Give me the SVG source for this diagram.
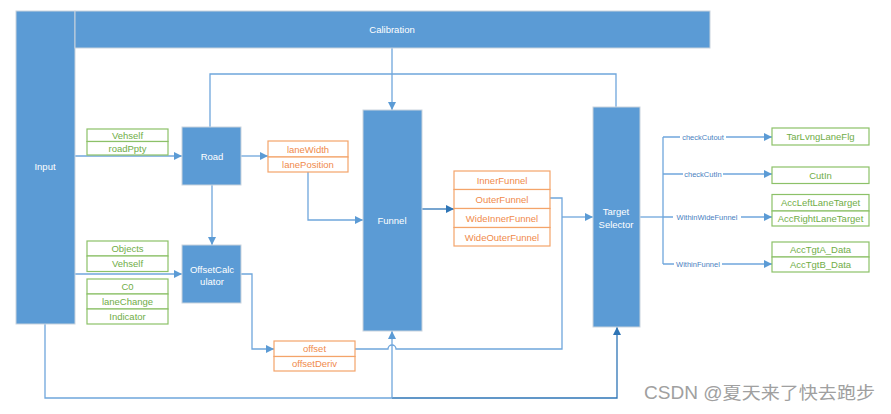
<svg xmlns="http://www.w3.org/2000/svg" width="891" height="414" viewBox="0 0 891 414">
<defs>
<style>
.blk{fill:#5b9bd5;stroke:#c9d3dd;stroke-width:1}
.wt{fill:#ffffff;font-family:"Liberation Sans","Noto Sans",sans-serif;font-size:9.5px;text-anchor:middle}
.gb{fill:#ffffff;stroke:#8cc168;stroke-width:1.2}
.gt{fill:#70ad47;font-family:"Liberation Sans","Noto Sans",sans-serif;font-size:9.5px;text-anchor:middle}
.ob{fill:#ffffff;stroke:#f4a46a;stroke-width:1.2}
.ot{fill:#f08a4b;font-family:"Liberation Sans","Noto Sans",sans-serif;font-size:9.5px;text-anchor:middle}
.ln{fill:none;stroke:#6fa6dc;stroke-width:1.3}
.lnd{fill:none;stroke:#2e75b6;stroke-width:1.3}
.lbl{fill:#4a7fbf;font-family:"Liberation Sans","Noto Sans",sans-serif;font-size:7.5px;text-anchor:middle}
</style>
<marker id="ah" viewBox="0 0 10 10" refX="10" refY="5" markerWidth="8" markerHeight="8" markerUnits="userSpaceOnUse" orient="auto">
<path d="M0,0 L10,5 L0,10 z" fill="#5b9bd5"/>
</marker>
<marker id="ahd" viewBox="0 0 10 10" refX="10" refY="5" markerWidth="8" markerHeight="8" markerUnits="userSpaceOnUse" orient="auto">
<path d="M0,0 L10,5 L0,10 z" fill="#2e75b6"/>
</marker>
</defs>
<rect x="0" y="0" width="891" height="414" fill="#ffffff"/>

<g id="connectors">
<path class="ln" d="M392,48 V110" marker-end="url(#ah)"/>
<path class="ln" d="M210,127 V74 H616 V107"/>
<path class="ln" d="M75,156 H182" marker-end="url(#ah)"/>
<path class="ln" d="M241,156 H268" marker-end="url(#ah)"/>
<path class="ln" d="M308,172 V220 H363" marker-end="url(#ah)"/>
<path class="ln" d="M212,185 V245" marker-end="url(#ah)"/>
<path class="ln" d="M75,274 H182" marker-end="url(#ah)"/>
<path class="ln" d="M241,274 H252 V349 H274" marker-end="url(#ah)"/>
<path class="lnd" d="M422,209 H454" marker-end="url(#ahd)"/>
<path class="ln" d="M550,198 H562 V349 H396 A4,4 0 0 0 388,349 H355"/>
<path class="ln" d="M562,217 H593" marker-end="url(#ah)"/>
<path class="ln" d="M45,324 V398 H392"/>
<path class="lnd" d="M392,398 H617 V327" marker-end="url(#ahd)"/>
<path class="ln" d="M392,398 V331" marker-end="url(#ah)"/>
<path class="ln" d="M640,217 H663"/>
<path class="ln" d="M663,137 V264"/>
<path class="ln" d="M663,137 H772" marker-end="url(#ah)"/>
<path class="ln" d="M663,174 H772" marker-end="url(#ah)"/>
<path class="ln" d="M663,217 H772" marker-end="url(#ah)"/>
<path class="ln" d="M663,264 H772" marker-end="url(#ah)"/>
<rect x="680" y="133" width="46" height="8" fill="#ffffff"/>
<text class="lbl" x="703" y="139.5">checkCutout</text>
<rect x="683" y="170" width="40" height="8" fill="#ffffff"/>
<text class="lbl" x="703" y="176.5">checkCutIn</text>
<rect x="673" y="213" width="68" height="8" fill="#ffffff"/>
<text class="lbl" x="707" y="219.5">WithinWideFunnel</text>
<rect x="674" y="260" width="48" height="8" fill="#ffffff"/>
<text class="lbl" x="698" y="266.5">WithinFunnel</text>
</g>

<g id="input">
<rect class="blk" x="16" y="11" width="59" height="313"/>
<text class="wt" x="45" y="170">Input</text>
</g>
<g id="calibration">
<rect class="blk" x="75" y="11" width="635" height="37"/>
<text class="wt" x="392" y="33">Calibration</text>
</g>
<g id="road">
<rect class="blk" x="182" y="127" width="59" height="58"/>
<text class="wt" x="212" y="160">Road</text>
</g>
<g id="offsetCalculator">
<rect class="blk" x="182" y="245" width="59" height="58"/>
<text class="wt" x="212" y="273">OffsetCalc</text>
<text class="wt" x="212" y="285">ulator</text>
</g>
<g id="funnel">
<rect class="blk" x="363" y="110" width="59" height="221"/>
<text class="wt" x="392" y="224">Funnel</text>
</g>
<g id="targetSelector">
<rect class="blk" x="593" y="107" width="47" height="220"/>
<text class="wt" x="616" y="215">Target</text>
<text class="wt" x="616" y="228">Selector</text>
</g>

<g id="roadInputs">
<rect class="gb" x="87" y="129" width="81" height="12.5"/>
<rect class="gb" x="87" y="141.5" width="81" height="13.5"/>
<text class="gt" x="127.5" y="139">Vehself</text>
<text class="gt" x="127.5" y="152">roadPpty</text>
</g>
<g id="offsetInputsA">
<rect class="gb" x="87" y="241" width="81" height="15"/>
<rect class="gb" x="87" y="256" width="81" height="15.5"/>
<text class="gt" x="127.5" y="252">Objects</text>
<text class="gt" x="127.5" y="267">Vehself</text>
</g>
<g id="offsetInputsB">
<rect class="gb" x="87" y="279" width="81" height="15"/>
<rect class="gb" x="87" y="294" width="81" height="15"/>
<rect class="gb" x="87" y="309" width="81" height="15"/>
<text class="gt" x="127.5" y="290">C0</text>
<text class="gt" x="127.5" y="305">laneChange</text>
<text class="gt" x="127.5" y="320">Indicator</text>
</g>
<g id="roadOutputs">
<rect class="ob" x="268" y="141" width="80" height="16"/>
<rect class="ob" x="268" y="157" width="80" height="15"/>
<text class="ot" x="308" y="152.5">laneWidth</text>
<text class="ot" x="308" y="167.5">lanePosition</text>
</g>
<g id="offsetOutputs">
<rect class="ob" x="274" y="341" width="81" height="15.5"/>
<rect class="ob" x="274" y="356.5" width="81" height="14.5"/>
<text class="ot" x="314.5" y="352">offset</text>
<text class="ot" x="314.5" y="367">offsetDeriv</text>
</g>
<g id="funnelOutputs">
<rect class="ob" x="454" y="171" width="96" height="18.5"/>
<rect class="ob" x="454" y="189.5" width="96" height="19"/>
<rect class="ob" x="454" y="208.5" width="96" height="19"/>
<rect class="ob" x="454" y="227.5" width="96" height="18.5"/>
<text class="ot" x="502" y="183.5">InnerFunnel</text>
<text class="ot" x="502" y="202.5">OuterFunnel</text>
<text class="ot" x="502" y="221.5">WideInnerFunnel</text>
<text class="ot" x="502" y="240.5">WideOuterFunnel</text>
</g>
<g id="tarLvngLaneFlg">
<rect class="gb" x="772" y="128" width="97" height="17"/>
<text class="gt" x="820.5" y="140">TarLvngLaneFlg</text>
</g>
<g id="cutIn">
<rect class="gb" x="772" y="167" width="97" height="16.5"/>
<text class="gt" x="820.5" y="178.5">CutIn</text>
</g>
<g id="laneTargets">
<rect class="gb" x="772" y="194.5" width="97" height="16.5"/>
<rect class="gb" x="772" y="211" width="97" height="15"/>
<text class="gt" x="820.5" y="206">AccLeftLaneTarget</text>
<text class="gt" x="820.5" y="221.5">AccRightLaneTarget</text>
</g>
<g id="tgtData">
<rect class="gb" x="772" y="242" width="97" height="15"/>
<rect class="gb" x="772" y="257" width="97" height="15"/>
<text class="gt" x="820.5" y="253">AccTgtA_Data</text>
<text class="gt" x="820.5" y="268">AccTgtB_Data</text>
</g>
<text x="644" y="399" fill="#a0a0a0" font-family="'Liberation Sans','Noto Sans CJK SC',sans-serif" font-size="17.5" textLength="231" lengthAdjust="spacingAndGlyphs">CSDN @夏天来了快去跑步</text>
</svg>
